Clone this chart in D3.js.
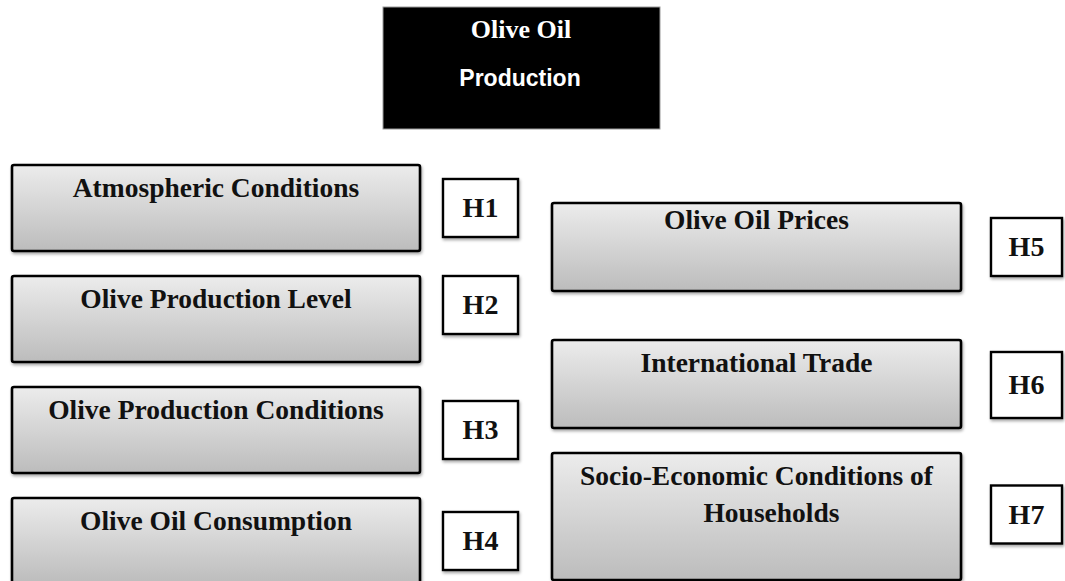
<!DOCTYPE html>
<html>
<head>
<meta charset="utf-8">
<script src="https://cdn.jsdelivr.net/npm/d3@7"></script>
<style>
  body { margin: 0; background: #fff; }
  svg { display: block; }
</style>
</head>
<body>
<div id="chart"></div>
<script>
// diagram content
const titleLines = ["Olive Oil", "Production"]
const leftFactors = ["Atmospheric Conditions", "Olive Production Level", "Olive Production Conditions", "Olive Oil Consumption"]
const rightFactors = [["Olive Oil Prices"], ["International Trade"], ["Socio-Economic Conditions of", "Households"]]
const hypotheses = ["H1", "H2", "H3", "H4", "H5", "H6", "H7"]

const width = 1065, height = 581
const serif = "'Liberation Serif', 'Times New Roman', serif"

const svg = d3.select('#chart').append('svg')
    .attr('width', width)
    .attr('height', height)

const defs = svg.append('defs')
const grad = defs.append('linearGradient')
    .attr('id', 'boxGrad')
    .attr('x1', 0).attr('y1', 0).attr('x2', 0).attr('y2', 1)
grad.append('stop').attr('offset', '0%').attr('stop-color', '#ececec')
grad.append('stop').attr('offset', '100%').attr('stop-color', '#bcbcbc')

const shadow = defs.append('filter')
    .attr('id', 'shadow')
    .attr('x', '-5%').attr('y', '-10%').attr('width', '115%').attr('height', '130%')
shadow.append('feDropShadow')
    .attr('dx', 1).attr('dy', 2)
    .attr('stdDeviation', 1.6)
    .attr('flood-color', '#000')
    .attr('flood-opacity', 0.35)

// layout scales
const yLeft = d3.scaleLinear().domain([0, leftFactors.length - 1]).range([165, 498])
const yRight = d3.scaleLinear().domain([0, 1, 2]).range([203, 340, 453])
const col = {
    left: { x: 12, w: 408, h: 86, hx: 443, hw: 75 },
    right: { x: 552, w: 409, h: 88, hx: 991, hw: 71 }
}
const lineH = 37
const hH = 58
const hShift = [0, -14, 0, 0, 0, -3, -2]

// title block
const title = svg.append('g')
title.append('rect')
    .attr('x', 383).attr('y', 7)
    .attr('width', 277).attr('height', 122)
    .style('fill', '#000')
    .style('stroke', '#9a9a9a')
    .style('stroke-width', 1)
title.append('text')
    .attr('x', 521).attr('y', 38)
    .attr('text-anchor', 'middle')
    .style('font-family', serif)
    .style('font-weight', 'bold')
    .style('font-size', '26px')
    .style('fill', '#fff')
    .text(titleLines[0])
title.append('text')
    .attr('x', 520).attr('y', 86)
    .attr('text-anchor', 'middle')
    .style('font-family', "'Liberation Sans', Arial, sans-serif")
    .style('font-weight', 'bold')
    .style('font-size', '23px')
    .style('fill', '#fff')
    .text(titleLines[1])

// build rows for both columns
const rows = []
leftFactors.forEach((f, i) => {
    rows.push({ side: 'left', lines: [f], top: yLeft(i), h: col.left.h, hyp: hypotheses[i] })
})
rightFactors.forEach((f, i) => {
    rows.push({ side: 'right', lines: f, top: yRight(i), h: col.right.h + (f.length - 1) * 39, hyp: hypotheses[leftFactors.length + i] })
})

const g = svg.selectAll('.factor')
    .data(rows)
    .enter()
    .append('g')
    .attr('class', 'factor')

g.append('rect')
    .attr('x', d => col[d.side].x)
    .attr('y', d => d.top)
    .attr('width', d => col[d.side].w)
    .attr('height', d => d.h)
    .attr('rx', 2)
    .style('fill', 'url(#boxGrad)')
    .style('stroke', '#000')
    .style('stroke-width', 2.6)
    .style('filter', 'url(#shadow)')

g.each(function (d) {
    const c = col[d.side]
    d3.select(this).selectAll('.lbl')
        .data(d.lines)
        .enter()
        .append('text')
        .attr('class', 'lbl')
        .attr('x', (t, j) => c.x + c.w / 2 + (j > 0 ? 15 : 0))
        .attr('y', (t, j) => d.top + (d.side === 'right' && d.lines.length === 1 && d.top < 250 ? 26 : 32) + j * lineH)
        .attr('text-anchor', 'middle')
        .style('font-family', serif)
        .style('font-weight', 'bold')
        .style('font-size', '27.5px')
        .style('fill', '#111')
        .text(t => t)
})

// hypothesis boxes
g.append('rect')
    .attr('x', d => col[d.side].hx)
    .attr('y', (d, i) => d.top + d.h / 2 - hH / 2 + hShift[i])
    .attr('width', d => col[d.side].hw)
    .attr('height', (d, i) => i === 5 ? hH + 8 : hH)
    .style('fill', '#fff')
    .style('stroke', '#000')
    .style('stroke-width', 2.4)
    .style('filter', 'url(#shadow)')

g.append('text')
    .attr('x', d => col[d.side].hx + col[d.side].hw / 2)
    .attr('y', (d, i) => d.top + d.h / 2 + hShift[i] + 9 + (i === 5 ? 4 : 0))
    .attr('text-anchor', 'middle')
    .style('font-family', serif)
    .style('font-weight', 'bold')
    .style('font-size', '28px')
    .style('fill', '#111')
    .text(d => d.hyp)
</script>
</body>
</html>
